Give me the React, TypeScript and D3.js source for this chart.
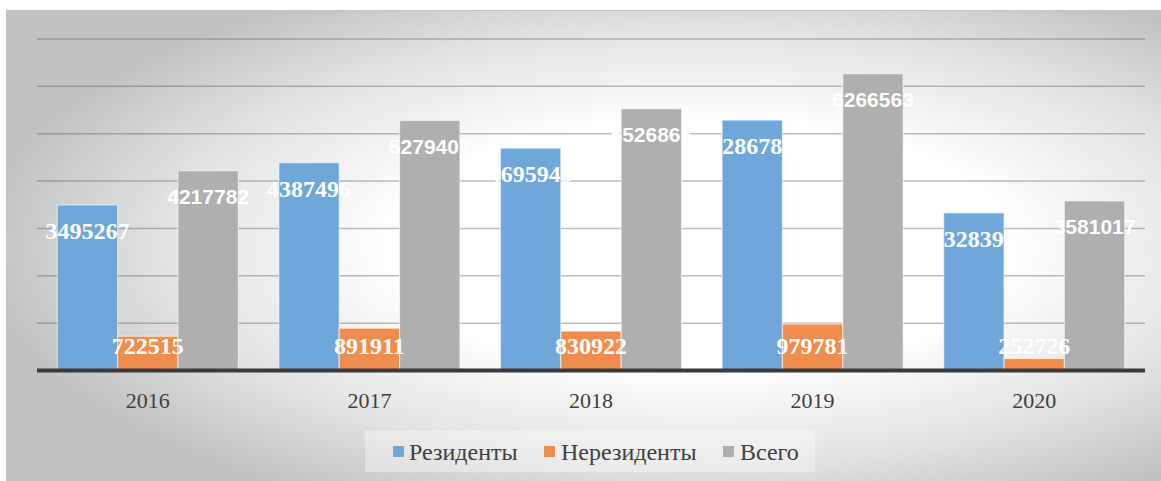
import React from "react";
import * as d3 from "d3";

const years = ["2016", "2017", "2018", "2019", "2020"];
const residents = [3495267, 4387496, 4695943, 5286782, 3328391];
const nonResidents = [722515, 891911, 830922, 979781, 252726];
const totals = [4217782, 5279407, 5526865, 6266563, 3581017];
const seriesNames = ["Резиденты", "Нерезиденты", "Всего"];
const seriesColors = ["#6fa7db", "#ee8d4d", "#afafaf"];
const yTicks = [0, 1000000, 2000000, 3000000, 4000000, 5000000, 6000000, 7000000];

const W = 1161;
const H = 481;

export default function App() {
  const series = [residents, nonResidents, totals];
  const x0 = d3.scaleBand<string>().domain(years).range([37, 1145]).padding(0);
  const step = x0.step();
  const pad = step * 0.0915;
  const x1 = d3
    .scaleBand<string>()
    .domain(seriesNames)
    .range([pad, step - pad])
    .padding(0);
  const y = d3.scaleLinear().domain([0, 7000000]).range([370.5, 39]);
  const base = y(0);

  const serif = "Liberation Serif, Times New Roman, serif";
  const sans = "Liberation Sans, Arial, sans-serif";

  return (
    <svg width={W} height={H} style={{ position: "absolute", left: 0, top: 0 }}>
      <defs>
        <radialGradient id="bg" cx="0.6" cy="0.5" r="0.62">
          <stop offset="0" stopColor="#ffffff" />
          <stop offset="0.42" stopColor="#ffffff" />
          <stop offset="0.75" stopColor="#e2e2e2" />
          <stop offset="1" stopColor="#c2c2c2" />
        </radialGradient>
      </defs>
      <rect x={0} y={0} width={W} height={H} fill="#ffffff" />
      <rect x={6.5} y={10.5} width={W - 6} height={H - 10} fill="url(#bg)" stroke="#c4c4c4" strokeWidth={1} />

      {yTicks.slice(1).map((t) => (
        <line
          key={t}
          x1={37}
          x2={1145}
          y1={y(t)}
          y2={y(t)}
          stroke="rgba(90,90,90,0.4)"
          strokeWidth={1.5}
        />
      ))}

      {years.map((yr, i) => (
        <g key={yr} transform={`translate(${x0(yr)},0)`}>
          {series.map((s, j) => {
            const bx = x1(seriesNames[j])!;
            const top = y(s[i]);
            return (
              <rect
                key={j}
                x={bx}
                y={top}
                width={x1.bandwidth()}
                height={base - top}
                fill={seriesColors[j]}
                stroke="rgba(255,255,255,0.55)"
                strokeWidth={1.2}
              />
            );
          })}
        </g>
      ))}

      <line x1={37} x2={1145} y1={base} y2={base} stroke="#3a3a3a" strokeWidth={4} />

      {years.map((yr, i) => (
        <g key={"l" + yr} transform={`translate(${x0(yr)},0)`}>
          {series.map((s, j) => {
            const cx = x1(seriesNames[j])! + x1.bandwidth() / 2;
            const cy = Math.min(y(s[i]) + 26, 346);
            return (
              <text
                key={j}
                x={cx}
                y={cy}
                textAnchor="middle"
                dominantBaseline="central"
                fill="#ffffff"
                fontWeight="bold"
                style={{ fontFamily: j === 2 ? sans : serif }}
                fontSize={j === 2 ? 21 : 24}
              >
                {s[i]}
              </text>
            );
          })}
          <text
            x={x0.bandwidth() / 2}
            y={400}
            textAnchor="middle"
            dominantBaseline="central"
            fill="#404040"
            style={{ fontFamily: serif }}
            fontSize={22}
          >
            {yr}
          </text>
        </g>
      ))}

      <rect x={365} y={430} width={450} height={42} fill="rgba(255,255,255,0.35)" />
      {[
        { sx: 393, tx: 409 },
        { sx: 544, tx: 561 },
        { sx: 723, tx: 740 },
      ].map((p, j) => (
        <g key={"lg" + j}>
          <rect x={p.sx} y={446} width={11} height={11} fill={seriesColors[j]} />
          <text
            x={p.tx}
            y={452}
            dominantBaseline="central"
            fill="#404040"
            style={{ fontFamily: serif }}
            fontSize={24}
          >
            {seriesNames[j]}
          </text>
        </g>
      ))}
    </svg>
  );
}
